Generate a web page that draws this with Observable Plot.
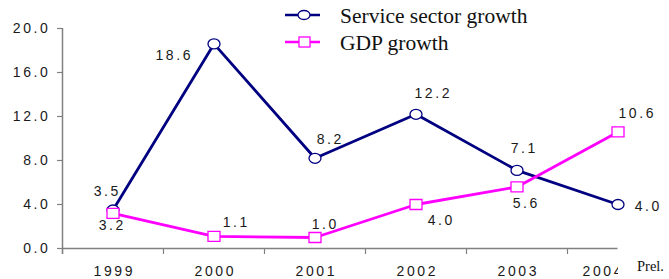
<!DOCTYPE html>
<html>
<head>
<meta charset="utf-8">
<script src="https://cdn.jsdelivr.net/npm/d3@7"></script>
<script src="https://cdn.jsdelivr.net/npm/@observablehq/plot@0.6"></script>
<style>
  html, body { margin: 0; padding: 0; background: #fff; }
  #chart { position: relative; width: 669px; height: 279px; }
  #chart svg.plot text { letter-spacing: 2.6px; }
  #overlay { position: absolute; left: 0; top: 0; pointer-events: none; }
</style>
</head>
<body>
<div id="chart"></div>
<script>
// ---- data ----
const years = [1999, 2000, 2001, 2002, 2003, 2004];
const serviceGrowth = [3.5, 18.6, 8.2, 12.2, 7.1, 4.0];
const gdpGrowth = [3.2, 1.1, 1.0, 4.0, 5.6, 10.6];
const yTicks = [0, 4, 8, 12, 16, 20];
const seriesNames = ["Service sector growth", "GDP growth"];
const prelNote = "Prel.";

// ---- layout / style (not data) ----
const navy = "#000080", magenta = "#FF00FF", axisGray = "#808080", textColor = "#1a1a1a";
const serviceLabelOffsets = [[-7, -18], [-41, 12], [14, -19], [16, -21], [6, -22], [29, 2]];
const gdpLabelOffsets = [[-2, 12], [21, -14], [9, -13], [24, 16], [8, 17], [18, -18]];
const ls = 1.3; // half letter-spacing compensation for centered text
const fs = 14;

const xMin = years[0] - 0.5, xMax = years[years.length - 1] + 0.5;
const xTickPos = [xMin, ...years.slice(0, -1).map(y => y + 0.5)];

const k = 0.5523;
const ellipseSymbol = {
  draw(ctx) {
    const rx = 6, ry = 5;
    ctx.moveTo(rx, 0);
    ctx.bezierCurveTo(rx, ry * k, rx * k, ry, 0, ry);
    ctx.bezierCurveTo(-rx * k, ry, -rx, ry * k, -rx, 0);
    ctx.bezierCurveTo(-rx, -ry * k, -rx * k, -ry, 0, -ry);
    ctx.bezierCurveTo(rx * k, -ry, rx, -ry * k, rx, 0);
    ctx.closePath();
  }
};
const rectSymbol = {
  draw(ctx) {
    ctx.moveTo(-6, -5); ctx.lineTo(6, -5); ctx.lineTo(6, 5); ctx.lineTo(-6, 5); ctx.closePath();
  }
};

const idx = d3.range(years.length);
function labelMarks(values, offsets) {
  return idx.map(i => Plot.text([i], {
    x: j => years[j], y: j => values[j], text: j => values[j].toFixed(1),
    dx: offsets[i][0] + ls, dy: offsets[i][1], fill: textColor, fontSize: fs
  }));
}

const plot = Plot.plot({
  width: 669, height: 279,
  marginLeft: 62, marginRight: 51, marginTop: 0, marginBottom: 0,
  x: {type: "linear", domain: [xMin, xMax], range: [62, 668], axis: null},
  y: {type: "linear", domain: [0, 20], range: [248, 28], axis: null},
  style: {fontFamily: "'Liberation Sans', Arial, sans-serif", fontSize: "14px", background: "transparent", overflow: "visible"},
  marks: [
    // y axis line and ticks
    Plot.ruleX([xMin], {y1: 20, y2: 0, insetBottom: -6, stroke: axisGray, strokeWidth: 1.5}),
    Plot.ruleY(yTicks, {x1: xMin, x2: xMin, insetLeft: -5, stroke: axisGray, strokeWidth: 1.2}),
    Plot.text(yTicks, {x: xMin, y: d => d, text: d => d.toFixed(1), textAnchor: "end", dx: -12, fill: textColor, fontSize: fs}),
    // x axis line and ticks
    Plot.ruleY([0], {x1: xMin, x2: years[years.length - 1], stroke: axisGray, strokeWidth: 1.5}),
    Plot.ruleX(xTickPos, {y1: 0, y2: 0, insetBottom: -6, stroke: axisGray, strokeWidth: 1.2}),
    Plot.text(years.slice(0, -1), {x: d => d, y: 0, text: d => String(d), dy: 23, dx: ls, fill: textColor, fontSize: fs}),
    Plot.text(years.slice(-1), {x: d => d, y: 0, text: d => String(d), dy: 23, dx: -16 + ls, fill: textColor, fontSize: fs, clip: true}),
    // series
    Plot.line(idx, {x: i => years[i], y: i => serviceGrowth[i], stroke: navy, strokeWidth: 2.8}),
    Plot.dot(idx, {x: i => years[i], y: i => serviceGrowth[i], symbol: ellipseSymbol, fill: "white", stroke: navy, strokeWidth: 1.3}),
    Plot.line(idx, {x: i => years[i], y: i => gdpGrowth[i], stroke: magenta, strokeWidth: 2.8}),
    Plot.dot(idx, {x: i => years[i], y: i => gdpGrowth[i], symbol: rectSymbol, fill: "white", stroke: magenta, strokeWidth: 1.3}),
    ...labelMarks(serviceGrowth, serviceLabelOffsets),
    ...labelMarks(gdpGrowth, gdpLabelOffsets)
  ]
});
plot.classList.add("plot");
const chart = document.getElementById("chart");
chart.appendChild(plot);

// ---- legend + note overlay ----
const ov = d3.select(chart).append("svg").attr("id", "overlay").attr("width", 669).attr("height", 279);
const legendRows = [
  {name: seriesNames[0], color: navy, sym: "ellipse", y: 15},
  {name: seriesNames[1], color: magenta, sym: "rect", y: 42}
];
for (const r of legendRows) {
  const g = ov.append("g");
  g.append("line").attr("x1", 285).attr("x2", 320).attr("y1", r.y).attr("y2", r.y)
    .attr("stroke", r.color).attr("stroke-width", 2.6);
  if (r.sym === "ellipse") {
    g.append("ellipse").attr("cx", 304).attr("cy", r.y).attr("rx", 6).attr("ry", 4.5)
      .attr("fill", "white").attr("stroke", r.color).attr("stroke-width", 1.3);
  } else {
    g.append("rect").attr("x", 299).attr("y", r.y - 5).attr("width", 11).attr("height", 10)
      .attr("fill", "white").attr("stroke", r.color).attr("stroke-width", 1.3);
  }
  g.append("text").attr("x", 340).attr("y", r.y + 8)
    .attr("font-family", "'Liberation Serif', 'Times New Roman', serif").attr("font-size", 21.5)
    .attr("fill", "#111").text(r.name);
}
ov.append("text").attr("x", 637).attr("y", 271)
  .attr("font-family", "'Liberation Serif', 'Times New Roman', serif").attr("font-size", 14.5)
  .attr("fill", "#111").text(prelNote);
</script>
</body>
</html>
